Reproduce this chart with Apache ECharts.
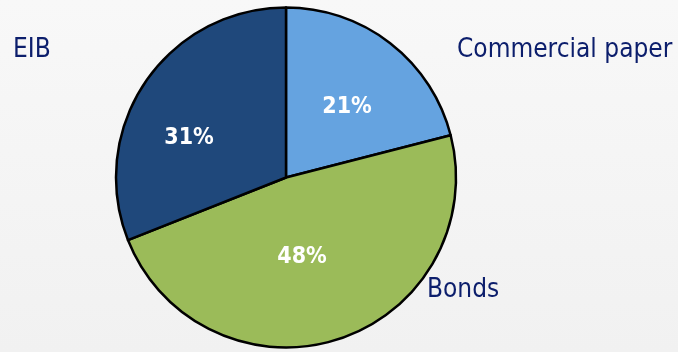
<!DOCTYPE html>
<html>
<head>
<meta charset="utf-8">
<script src="https://cdn.jsdelivr.net/npm/echarts@6/dist/echarts.min.js"></script>
<style>
  html, body { margin: 0; padding: 0; }
  #chart { width: 678px; height: 352px; }
</style>
</head>
<body>
<div id="chart"></div>
<script>
// Funding sources, share of total (%)
const categories = ['Commercial paper', 'Bonds', 'EIB'];
const shares = [21, 48, 31];
const colors = ['#65a3e0', '#9bbb59', '#1f487b'];

// label anchor points (px) for the percent labels and the name labels
const pctPos = [[347, 107], [302, 257], [189, 138]];
const namePos = [[457, 50], [427, 290], [13, 50]];

const FONT = '"DejaVu Sans Condensed", "DejaVu Sans", sans-serif';
const CENTER = [286, 177.5];
const RADIUS = 170;

const pieData = categories.map((name, i) => ({
  name: name,
  value: shares[i],
  itemStyle: { color: colors[i] }
}));

const chart = echarts.init(document.getElementById('chart'));
chart.setOption({
  backgroundColor: {
    type: 'linear', x: 0, y: 0, x2: 0, y2: 1,
    colorStops: [
      { offset: 0, color: '#f8f8f8' },
      { offset: 1, color: '#f1f1f1' }
    ]
  },
  animation: false,
  series: [
    {
      type: 'pie',
      center: CENTER,
      radius: [0, RADIUS],
      startAngle: 90,
      clockwise: true,
      data: pieData,
      itemStyle: { borderColor: '#000', borderWidth: 2.5 },
      label: {
        show: true,
        position: 'inside',
        formatter: p => p.value + '%',
        color: '#ffffff',
        fontFamily: FONT,
        fontWeight: 'bold',
        fontSize: 23
      },
      labelLine: { show: false },
      labelLayout: p => ({
        x: pctPos[p.dataIndex][0],
        y: pctPos[p.dataIndex][1],
        align: 'center',
        verticalAlign: 'middle'
      })
    },
    {
      type: 'pie',
      center: CENTER,
      radius: [0, RADIUS],
      startAngle: 90,
      clockwise: true,
      silent: true,
      data: categories.map((name, i) => ({ name: name, value: shares[i] })),
      itemStyle: { color: 'rgba(0,0,0,0)', borderWidth: 0 },
      label: {
        show: true,
        position: 'outside',
        formatter: p => p.name,
        color: '#0c1e6c',
        fontFamily: FONT,
        fontSize: 26
      },
      labelLine: { show: false },
      labelLayout: p => ({
        x: namePos[p.dataIndex][0],
        y: namePos[p.dataIndex][1],
        align: 'left',
        verticalAlign: 'middle'
      })
    }
  ]
});
</script>
</body>
</html>
